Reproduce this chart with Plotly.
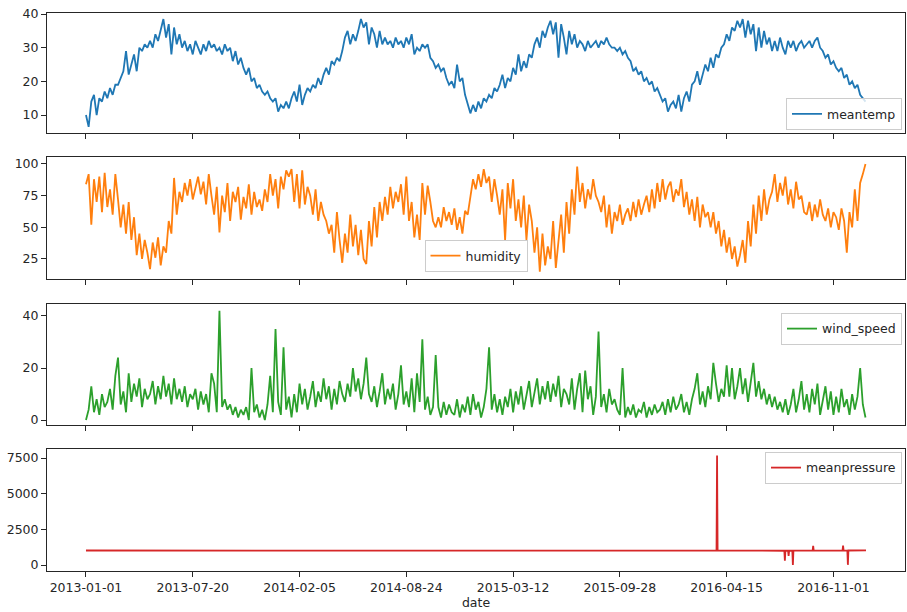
import pandas as pd
import plotly.graph_objects as go

# Daily Delhi climate, sampled every 5 days from 2013-01-01
meantemp = [
    10, 6.5, 14, 16, 10, 15,  14, 17, 15, 18, 16, 19,
    19, 21, 23, 29, 22, 25,  28, 23, 30, 29, 31, 30,
    32, 30, 34, 32, 35, 38.5,  33, 37, 28, 36, 31, 34,
    30, 32, 29, 31, 28, 32,  30, 28, 31, 29, 32, 30,
    31, 29, 30, 28, 31, 29,  30, 26, 29, 25, 27, 24,
    22, 24, 20, 21, 18, 19,  17, 16, 17, 15, 14, 15,
    11, 13, 12, 14, 12, 15,  17, 14, 19, 13, 16, 18,
    17, 19, 18, 21, 19, 22,  24, 22, 26, 25, 27, 26,
    29, 33, 35, 31, 34, 32,  35, 38.5, 36, 37.5, 31, 36,
    34, 30, 35, 31, 33, 31,  32, 30, 33, 31, 32, 30,
    33, 31, 34, 28, 30, 29,  31, 30, 31, 27, 26, 24,
    25, 23, 24, 21, 19, 20,  18, 25, 20, 21, 16, 13,
    10.5, 13, 11, 14, 12, 15,  14, 16, 15, 18, 17, 19,
    22, 18, 21, 20, 24, 22,  28, 23, 26, 24, 28, 27,
    31, 33, 30, 35, 33, 36,  38, 34, 37.5, 27, 37, 33,
    28, 35, 31, 34, 30, 32,  31, 29, 32, 30, 31, 32,
    30, 32, 31, 33, 31, 30,  30, 29, 30, 28, 29, 27,
    26, 23, 24, 22, 23, 20,  21, 19, 20, 17, 18, 16,
    14, 15, 11, 13, 14, 12,  16, 11, 15, 17, 14, 19,
    20, 23, 19, 22, 25, 23,  27, 24, 28, 27, 30, 31,
    34, 32, 36, 35, 38, 36,  38.5, 33, 38, 34, 37, 29,
    36, 30, 35, 31, 33, 29,  32, 29, 33, 30, 28, 32,
    30, 32, 29, 31, 32, 30,  31, 32, 30, 32, 33, 30,
    29, 27, 28, 25, 26, 24,  23, 24, 21, 22, 19, 20,
    18, 19, 16, 15, 14,
]

humidity = [
    84, 92, 52, 88, 70, 90,  62, 93, 66, 80, 60, 92,
    72, 50, 68, 45, 70, 40,  58, 28, 45, 25, 40, 30,
    17, 38, 26, 42, 20, 35,  30, 55, 45, 89, 60, 78,
    70, 85, 75, 88, 72, 80,  90, 76, 86, 68, 92, 75,
    60, 82, 46, 75, 62, 85,  55, 78, 70, 82, 56, 74,
    65, 84, 60, 78, 66, 72,  63, 80, 70, 92, 75, 88,
    65, 90, 80, 95, 90, 96,  70, 92, 65, 95, 68, 82,
    75, 60, 80, 55, 70, 60,  55, 45, 52, 30, 62, 40,
    22, 45, 30, 60, 35, 52,  28, 48, 25, 21, 55, 35,
    66, 42, 70, 55, 74, 60,  82, 65, 78, 70, 84, 60,
    90, 55, 70, 42, 60, 40,  85, 60, 83, 70, 55, 50,
    58, 50, 66, 55, 62, 52,  65, 48, 58, 45, 63, 60,
    75, 88, 80, 92, 82, 96,  85, 90, 70, 88, 75, 60,
    80, 40, 85, 65, 88, 55,  72, 50, 75, 40, 68, 55,
    30, 50, 15, 45, 20, 35,  25, 55, 18, 40, 60, 30,
    70, 45, 80, 60, 98, 70,  85, 65, 80, 72, 88, 75,
    70, 62, 75, 50, 68, 45,  62, 55, 68, 52, 60, 65,
    55, 70, 58, 72, 60, 68,  75, 62, 80, 65, 85, 70,
    88, 72, 82, 86, 70, 80,  75, 88, 66, 78, 60, 72,
    55, 74, 50, 68, 58, 62,  50, 62, 45, 55, 35, 48,
    30, 42, 25, 35, 19, 28,  40, 22, 55, 35, 68, 45,
    75, 55, 80, 60, 72, 78,  92, 70, 85, 75, 90, 68,
    80, 65, 86, 72, 75, 62,  60, 70, 55, 68, 58, 72,
    60, 55, 65, 50, 62, 58,  48, 65, 55, 30, 62, 50,
    80, 55, 85, 92, 100,
]

wind_speed = [
    0, 4, 13, 3, 8, 2,  10, 5, 7, 12, 4, 17,
    24, 6, 11, 3, 18, 7,  14, 9, 16, 5, 12, 8,
    10, 15, 6, 13, 8, 17,  9, 14, 6, 16, 8, 12,
    7, 13, 5, 10, 8, 12,  4, 11, 6, 10, 3, 18,
    14, 3, 42, 5, 8, 4,  6, 2, 5, 1, 4, 2,
    5, 0, 20, 3, 6, 1,  4, 0, 6, 17, 3, 35,
    7, 2, 28, 4, 9, 1,  10, 3, 14, 6, 12, 4,
    9, 15, 5, 11, 7, 16,  8, 13, 4, 12, 6, 15,
    10, 7, 14, 9, 20, 11,  16, 8, 14, 24, 10, 7,
    13, 5, 11, 18, 6, 12,  8, 14, 4, 10, 21, 6,
    11, 5, 16, 3, 18, 7,  31, 4, 9, 2, 5, 25,
    5, 1, 7, 2, 6, 3,  2, 8, 1, 6, 3, 9,
    2, 10, 4, 7, 1, 5,  12, 28, 4, 10, 3, 8,
    2, 9, 5, 12, 3, 11,  6, 13, 4, 10, 15, 5,
    11, 16, 6, 13, 8, 15,  7, 14, 9, 17, 5, 12,
    10, 6, 16, 4, 12, 18,  3, 19, 8, 13, 2, 9,
    34, 5, 10, 3, 12, 6,  8, 4, 2, 20, 1, 5,
    2, 6, 1, 4, 3, 7,  1, 5, 2, 6, 3, 4,
    7, 2, 8, 3, 9, 4,  6, 10, 3, 7, 2, 8,
    12, 18, 6, 11, 5, 13,  8, 22, 14, 7, 12, 9,
    21, 9, 20, 8, 13, 20,  10, 16, 7, 14, 22, 9,
    15, 8, 12, 6, 10, 5,  9, 4, 7, 3, 8, 2,
    6, 12, 3, 8, 15, 4,  10, 3, 12, 6, 14, 2,
    7, 13, 4, 11, 2, 9,  3, 12, 5, 8, 2, 10,
    4, 9, 20, 6, 1,
]

# Mean pressure: monthly baseline plus the individual faulty readings of 2016
pressure_dates = [
    "2013-01-01", "2013-02-01", "2013-03-01", "2013-04-01", "2013-05-01", "2013-06-01",
    "2013-07-01", "2013-08-01", "2013-09-01", "2013-10-01", "2013-11-01", "2013-12-01",
    "2014-01-01", "2014-02-01", "2014-03-01", "2014-04-01", "2014-05-01", "2014-06-01",
    "2014-07-01", "2014-08-01", "2014-09-01", "2014-10-01", "2014-11-01", "2014-12-01",
    "2015-01-01", "2015-02-01", "2015-03-01", "2015-04-01", "2015-05-01", "2015-06-01",
    "2015-07-01", "2015-08-01", "2015-09-01", "2015-10-01", "2015-11-01", "2015-12-01",
    "2016-01-01", "2016-02-01", "2016-03-01", "2016-03-27", "2016-03-28", "2016-03-29",
    "2016-04-01", "2016-05-01", "2016-06-01", "2016-07-01", "2016-08-01", "2016-08-02",
    "2016-08-03", "2016-08-08", "2016-08-09", "2016-08-10", "2016-08-16", "2016-08-17",
    "2016-08-18", "2016-09-01", "2016-09-23", "2016-09-24", "2016-09-25", "2016-10-01",
    "2016-11-01", "2016-11-18", "2016-11-19", "2016-11-20", "2016-11-27", "2016-11-28",
    "2016-11-29", "2016-12-01", "2017-01-01",
]
meanpressure = [
    1016, 1016, 1012, 1008, 1003, 999,
    999, 1001, 1005, 1011, 1015, 1017,
    1017, 1015, 1012, 1008, 1003, 999,
    998, 1001, 1005, 1011, 1015, 1017,
    1018, 1016, 1013, 1009, 1004, 999,
    998, 1000, 1005, 1011, 1016, 1018,
    1017, 1015, 1012, 1010, 7679, 1009,
    1008, 1003, 999, 998, 1000, 310,
    1001, 1001, 633, 1001, 1002, -3,
    1002, 1004, 1008, 1350, 1008, 1010,
    1014, 1015, 1352, 1015, 1016, 12,
    1017, 1017, 1019,
]

tick_labels = ["2013-01-01", "2013-07-20", "2014-02-05", "2014-08-24",
               "2015-03-12", "2015-09-28", "2016-04-15", "2016-11-01"]

sample_dates = pd.date_range("2013-01-01", periods=len(meantemp), freq="5D")

FONT = "DejaVu Sans"
FS = 12.5
INK = "#262626"

panels = [
    dict(name="meantemp", x=sample_dates, y=meantemp, color="#1f77b4",
         yrange=[4.66, 40.3], ticks=[10, 20, 30, 40],
         dom=[0.7849, 1.0], leg=dict(x=0.9965, y=0.790, xanchor="right", yanchor="bottom")),
    dict(name="humidity", x=sample_dates, y=humidity, color="#ff7f0e",
         yrange=[9.2, 105.5], ticks=[25, 50, 75, 100],
         dom=[0.5233, 0.7419], leg=dict(x=0.5, y=0.5358, xanchor="center", yanchor="bottom")),
    dict(name="wind_speed", x=sample_dates, y=wind_speed, color="#2ca02c",
         yrange=[-1.9, 44.6], ticks=[0, 20, 40],
         dom=[0.2616, 0.4785], leg=dict(x=0.9965, y=0.4624, xanchor="right", yanchor="top")),
    dict(name="meanpressure", x=pd.to_datetime(pressure_dates), y=meanpressure, color="#d62728",
         yrange=[-420, 8130], ticks=[0, 2500, 5000, 7500],
         dom=[0.0, 0.2186], leg=dict(x=0.9965, y=0.2133, xanchor="right", yanchor="top")),
]

fig = go.Figure()
layout = dict(
    width=907, height=612,
    margin=dict(l=47, r=2, t=13, b=41),
    paper_bgcolor="white", plot_bgcolor="white",
    font=dict(family=FONT, size=FS, color=INK),
    showlegend=True,
)

for i, p in enumerate(panels):
    n = i + 1
    xa = "x" if n == 1 else f"x{n}"
    ya = "y" if n == 1 else f"y{n}"
    lg = "legend" if n == 1 else f"legend{n}"
    fig.add_trace(go.Scatter(
        x=p["x"], y=p["y"], mode="lines", name=p["name"],
        line=dict(color=p["color"], width=1.8),
        xaxis=xa, yaxis=ya, legend=lg,
    ))
    xkey = "xaxis" if n == 1 else f"xaxis{n}"
    ykey = "yaxis" if n == 1 else f"yaxis{n}"
    layout[xkey] = dict(
        domain=[0, 1], anchor=ya, type="date",
        range=["2012-10-20", "2017-03-15"],
        tickvals=tick_labels, ticktext=tick_labels if n == 4 else [""] * len(tick_labels),
        showticklabels=(n == 4),
        ticks="outside", ticklen=5, tickwidth=1, tickcolor=INK,
        showline=True, linecolor=INK, linewidth=1, mirror=True,
        showgrid=False, zeroline=False,
        tickfont=dict(family=FONT, size=FS, color=INK),
    )
    if n != 1:
        layout[xkey]["matches"] = "x"
    if n == 4:
        layout[xkey]["title"] = dict(text="date", font=dict(family=FONT, size=FS, color=INK), standoff=2)
    layout[ykey] = dict(
        domain=p["dom"], anchor=xa, range=p["yrange"],
        tickvals=p["ticks"], ticks="outside", ticklen=5, tickwidth=1, tickcolor=INK,
        showline=True, linecolor=INK, linewidth=1, mirror=True,
        showgrid=False, zeroline=False,
        tickfont=dict(family=FONT, size=FS, color=INK),
    )
    layout[lg] = dict(
        **p["leg"], xref="paper", yref="paper",
        bgcolor="rgba(255,255,255,0.8)", bordercolor="#cccccc", borderwidth=1,
        font=dict(family=FONT, size=FS, color=INK),
        itemwidth=30, tracegroupgap=0,
    )

fig.update_layout(**layout)
fig.write_html("out.html")
